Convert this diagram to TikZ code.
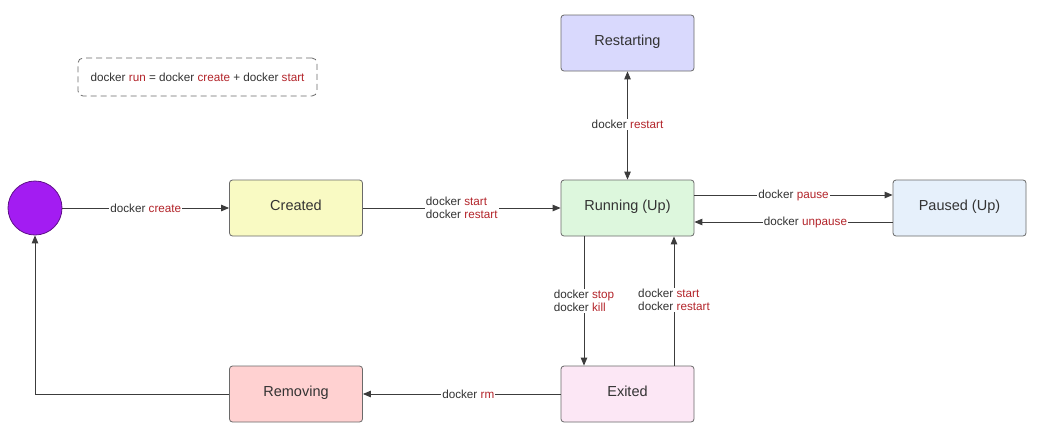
\documentclass[tikz,border=0pt]{standalone}
\usepackage{fontspec}
\setmainfont{Liberation Sans}
\usetikzlibrary{arrows.meta}
\definecolor{txt}{HTML}{333333}
\definecolor{cmd}{HTML}{B3242A}
\definecolor{ln}{HTML}{3C3C3C}
\definecolor{bord}{HTML}{6A6A6A}
\definecolor{fcreated}{HTML}{F9FAC3}
\definecolor{frunning}{HTML}{DDF7DD}
\definecolor{frestart}{HTML}{D9D9FD}
\definecolor{fpaused}{HTML}{E6F0FB}
\definecolor{fexited}{HTML}{FCE7F5}
\definecolor{fremove}{HTML}{FFD1D1}
\definecolor{fstart}{HTML}{A31CF2}
\definecolor{bstart}{HTML}{5E1088}
\newcommand{\dk}[1]{docker \textcolor{cmd}{#1}}
\begin{document}
\begin{tikzpicture}[x=1pt,y=-1pt,
  statebox/.style={draw=bord, line width=0.8pt, rounded corners=3pt,
    minimum width=133pt, minimum height=56pt, text=txt,
    text height=10.5pt, text depth=5pt,
    font=\fontsize{14.5}{17}\selectfont},
  lbl/.style={fill=white, inner sep=1pt, text=txt, align=left,
    font=\fontsize{11.7}{13.5}\selectfont},
  conn/.style={draw=ln, line width=0.9pt, -{Triangle[length=8pt,width=6.5pt]}},
  startc/.style={circle, draw=bstart, line width=0.8pt, fill=fstart, minimum size=54pt, inner sep=0pt},
  notebox/.style={draw=bord, dashed, dash pattern=on 6pt off 4pt, line width=0.8pt, rounded corners=5pt,
    minimum width=239pt, minimum height=38pt, text=txt, font=\fontsize{11.7}{14}\selectfont}
]
\useasboundingbox[fill=white] (0,0) rectangle (1054,445);

\node[notebox] (note) at (197.5,77) {\dk{run} = \dk{create} + \dk{start}};

\node[startc] (init) at (35,208) {};
\node[statebox, fill=fcreated] (created) at (296,208) {Created};
\node[statebox, fill=frunning] (running) at (627.5,208) {Running (Up)};
\node[statebox, fill=frestart] (restarting) at (627.5,43) {Restarting};
\node[statebox, fill=fpaused] (paused) at (959.5,208) {Paused (Up)};
\node[statebox, fill=fexited] (exited) at (627.5,394) {Exited};
\node[statebox, fill=fremove] (removing) at (296,394) {Removing};

\draw[conn] (init) -- node[lbl] {\dk{create}} (created);
\draw[conn] (created) -- node[lbl] {\dk{start}\\\dk{restart}} (running);
\draw[conn, {Triangle[length=8pt,width=6.5pt]}-{Triangle[length=8pt,width=6.5pt]}]
  (restarting.south) -- node[lbl, pos=0.49] {\dk{restart}} (running.north);
\draw[conn] ([yshift=13pt]running.east) -- node[lbl] {\dk{pause}} ([yshift=13pt]paused.west);
\draw[conn] ([yshift=-14pt]paused.west) -- node[lbl, pos=0.44] {\dk{unpause}} ([yshift=-14pt]running.east);
\draw[conn] ([xshift=-43.5pt]running.south) -- node[lbl] {\dk{stop}\\\dk{kill}} ([xshift=-43.5pt]exited.north);
\draw[conn] ([xshift=46.5pt]exited.north) -- node[lbl, pos=0.51] {\dk{start}\\\dk{restart}} ([xshift=46.5pt]running.south);
\draw[conn] (exited) -- node[lbl, pos=0.467] {\dk{rm}} (removing);
\draw[conn] (removing.west) -| (init.south);
\end{tikzpicture}
\end{document}
